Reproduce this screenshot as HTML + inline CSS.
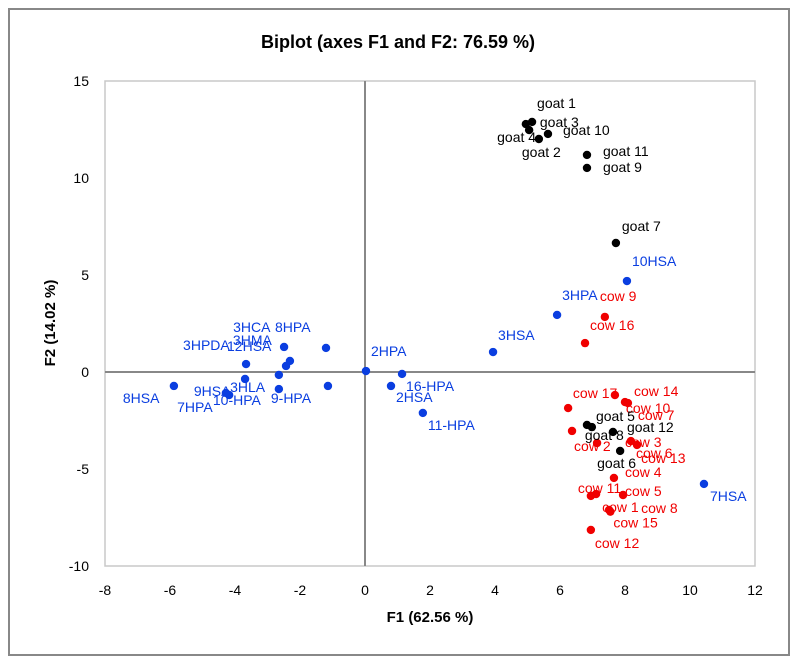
<!DOCTYPE html>
<html><head><meta charset="utf-8">
<style>
html,body{margin:0;padding:0;background:#fff;}
svg{display:block;font-family:"Liberation Sans",Arial,sans-serif;}
</style></head>
<body>
<svg id="chart" width="796" height="664" viewBox="0 0 796 664" xmlns="http://www.w3.org/2000/svg">
<rect x="9" y="9" width="780" height="646" fill="#fff" stroke="#888" stroke-width="2"/>
<text x="398" y="48" text-anchor="middle" font-size="18" font-weight="bold" fill="#000">Biplot (axes F1 and F2: 76.59 %)</text>
<rect x="105" y="81" width="650" height="485" fill="none" stroke="#c8c8c8" stroke-width="1.5"/>
<g id="axes"></g>
<g id="marks"></g>
<text x="430" y="622" text-anchor="middle" font-size="15" font-weight="bold">F1 (62.56 %)</text>
<text x="0" y="0" transform="translate(55,323) rotate(-90)" text-anchor="middle" font-size="15" font-weight="bold">F2 (14.02 %)</text>
</svg>
<script>
const xTicks = [-8,-6,-4,-2,0,2,4,6,8,10,12];
const yTicks = [-10,-5,0,5,10,15];

const blueNames = ["8HSA","7HPA","9HSA","3HLA","10-HPA","9-HPA","3HPDA","12HSA","3HMA","3HCA","8HPA","","2HPA","16-HPA","2HSA","11-HPA","3HSA","3HPA","10HSA","7HSA"];
const blueX = [-5.88,-4.18,-4.28,-3.69,-2.65,-2.65,-3.66,-2.43,-2.31,-2.49,-1.20,-1.14,0.03,1.14,0.80,1.78,3.94,5.91,8.06,10.43];
const blueY = [-0.72,-1.19,-1.08,-0.36,-0.15,-0.88,0.41,0.31,0.57,1.29,1.24,-0.72,0.05,-0.10,-0.72,-2.11,1.03,2.94,4.69,-5.77];

const redNames = ["cow 9","cow 16","cow 17","cow 14","cow 10","cow 7","cow 3","cow 2","cow 6","cow 13","cow 4","cow 11","cow 5","cow 1","cow 8","cow 15","cow 12"];
const redX = [7.38,6.77,7.69,8.00,8.09,8.18,8.37,7.14,6.37,6.25,7.66,6.95,7.94,7.11,7.51,7.55,6.95];
const redY = [2.84,1.49,-1.19,-1.55,-1.60,-3.56,-3.76,-3.66,-3.04,-1.86,-5.46,-6.39,-6.34,-6.29,-7.11,-7.20,-8.14];

const goatNames = ["goat 1","goat 3","goat 4","goat 10","goat 2","goat 11","goat 9","goat 7","goat 5","goat 8","goat 12","goat 6"];
const goatX = [5.14,4.95,5.05,5.63,5.35,6.83,6.83,7.72,6.83,6.98,7.63,7.85];
const goatY = [12.89,12.78,12.47,12.27,12.01,11.19,10.52,6.65,-2.73,-2.84,-3.09,-4.07];

// label offsets (styling)
const blueOff = [[-51,12],[-52,12],[-32,-2],[-15,8],[-66,25],[-8,9],[-63,-19],[-59,-20],[-57,-21],[-51,-20],[-51,-21],[0,0],[5,-20],[4,12],[5,11],[5,12],[5,-17],[5,-20],[5,-20],[6,12]];
const redOff = [[-5,-21],[5,-18],[-42,-2],[9,-11],[-2,5],[7,-26],[-12,-3],[-23,3],[64,22],[73,50],[11,-6],[-13,-8],[2,-4],[6,13],[32,-2],[3,11],[4,13]];
const goatOff = [[5,-19],[14,-2],[-32,7],[15,-4],[-17,13],[16,-4],[16,-1],[6,-17],[9,-9],[-7,8],[14,-5],[-23,12]];

const X0=105,X1=755,Y0=566,Y1=81,xmin=-8,xmax=12,ymin=-10,ymax=15;
const sx = v => X0 + (v - xmin) / (xmax - xmin) * (X1 - X0);
const sy = v => Y0 - (v - ymin) / (ymax - ymin) * (Y0 - Y1);
const NS="http://www.w3.org/2000/svg";
const axes=document.getElementById('axes'), marks=document.getElementById('marks');
function mk(tag, attrs, parent){const e=document.createElementNS(NS,tag);for(const k in attrs)e.setAttribute(k,attrs[k]);parent.appendChild(e);return e;}

xTicks.forEach(t=>{
  const e=mk('text',{x:sx(t),y:595,'text-anchor':'middle','font-size':14,fill:'#000'},axes);
  e.textContent=t;
  
  
});
yTicks.forEach(t=>{
  const e=mk('text',{x:89,y:sy(t)+5,'text-anchor':'end','font-size':14,fill:'#000'},axes);
  e.textContent=t;
  
  
});
const vl=mk('line',{x1:sx(0),x2:sx(0),y1:Y1,y2:Y0,stroke:'#888','stroke-width':2},axes);


const hl=mk('line',{x1:X0,x2:X1,y1:sy(0),y2:sy(0),stroke:'#888','stroke-width':2},axes);



function series(names,xs,ys,offs,color,kind){
  names.forEach((n,i)=>{
    const cx=sx(xs[i]),cy=sy(ys[i]);
    const c=mk('circle',{cx:cx,cy:cy,r:4.2,fill:color},marks);
    
    
  });
  names.forEach((n,i)=>{
    if(!n)return;
    const cx=sx(xs[i]),cy=sy(ys[i]);
    const t=mk('text',{x:cx+offs[i][0],y:cy+offs[i][1]+5,'font-size':14,fill:color},marks);
    t.textContent=n;
    
    
  });
}
series(blueNames,blueX,blueY,blueOff,'#0a3ee0','variable');
series(redNames,redX,redY,redOff,'#f00000','cow');
series(goatNames,goatX,goatY,goatOff,'#000','goat');
</script>
</body></html>
